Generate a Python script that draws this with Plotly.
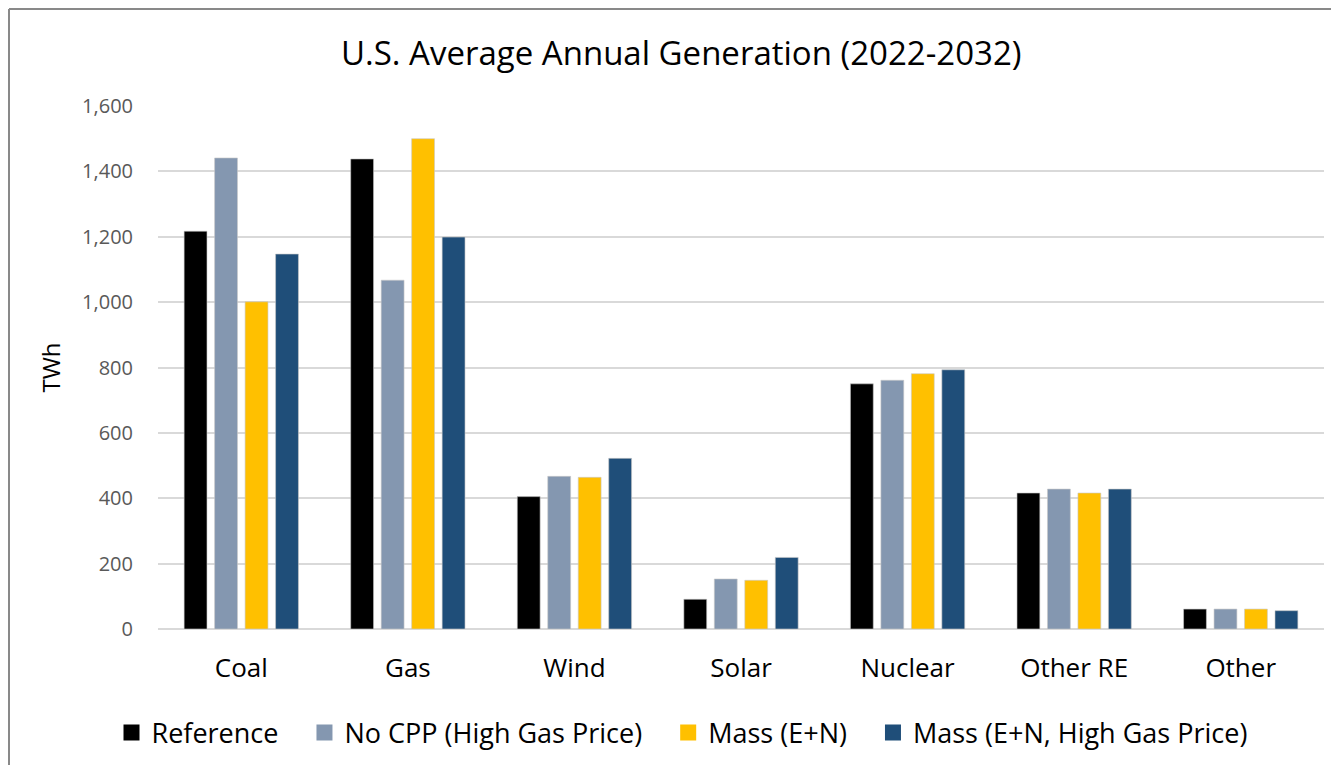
import plotly.graph_objects as go

categories = ["Coal", "Gas", "Wind", "Solar", "Nuclear", "Other RE", "Other"]
series_names = ["Reference", "No CPP (High Gas Price)", "Mass (E+N)", "Mass (E+N, High Gas Price)"]
reference = [1217, 1438, 405, 91, 750, 416, 61]
no_cpp_high_gas = [1441, 1067, 467, 153, 761, 428, 61]
mass_en = [1001, 1500, 464, 149, 781, 416, 61]
mass_en_high_gas = [1147, 1199, 522, 219, 793, 428, 56]
colors = ["#000000", "#8497B0", "#FFC000", "#1F4E79"]
y_ticks = [0, 200, 400, 600, 800, 1000, 1200, 1400, 1600]

FONT = "Open Sans"
# page is drawn with an 8px body margin; figure coordinates = page - 8
W, H = 1323, 757
L, R, T, B = 150, 7, 98, 136

pw = W - L - R
ph = H - T - B
def px_to_paper_x(px):
    return (px - L) / pw
def px_to_paper_y(py):
    return (H - B - py) / ph

fig = go.Figure()
all_vals = [reference, no_cpp_high_gas, mass_en, mass_en_high_gas]
for name, vals, col in zip(series_names, all_vals, colors):
    fig.add_trace(go.Bar(
        name=name, x=categories, y=vals, showlegend=False,
        marker=dict(color=col, line=dict(color="rgba(200,200,200,0.6)", width=1)),
    ))
pad = "\u00a0" * 3
for i, (name, col) in enumerate(zip(series_names, colors)):
    label = name + (pad if i < len(series_names) - 1 else "")
    fig.add_trace(go.Scatter(
        name=label, x=[None], y=[None], mode="markers",
        marker=dict(symbol="square", size=16, color=col), showlegend=True,
    ))

border = dict(color="#898989", width=2)
fig.update_layout(
    width=W, height=H,
    margin=dict(l=L, r=R, t=T, b=B, pad=0),
    paper_bgcolor="white", plot_bgcolor="white",
    barmode="group", bargap=0.268, bargroupgap=0.25,
    font=dict(family=FONT, color="#000000"),
    showlegend=True,
    legend=dict(
        orientation="h", xref="paper", yref="paper",
        x=px_to_paper_x(674), xanchor="center",
        y=px_to_paper_y(725), yanchor="middle",
        font=dict(family=FONT, size=27, color="#000000"),
        bgcolor="rgba(0,0,0,0)", itemsizing="trace",
    ),
    annotations=[
        dict(text="U.S. Average Annual Generation (2022-2032)", xref="paper", yref="paper",
             x=px_to_paper_x(673), y=px_to_paper_y(44), xanchor="center", yanchor="middle",
             showarrow=False, font=dict(family=FONT, size=33, color="#000000")),
    ],
    shapes=[
        dict(type="line", xref="paper", yref="paper",
             x0=px_to_paper_x(1), y0=px_to_paper_y(1), x1=px_to_paper_x(1), y1=px_to_paper_y(H),
             line=border, layer="below"),
        dict(type="line", xref="paper", yref="paper",
             x0=px_to_paper_x(1), y0=px_to_paper_y(1), x1=px_to_paper_x(W), y1=px_to_paper_y(1),
             line=border, layer="below"),
    ],
)

fig.update_xaxes(
    showgrid=False, showline=False, zeroline=False,
    ticks="outside", ticklen=16, tickcolor="rgba(0,0,0,0)",
    tickfont=dict(family=FONT, size=26, color="#000000"),
)
fig.update_yaxes(
    range=[0, 1600], tickvals=y_ticks, tickformat=",d",
    showgrid=True, gridcolor="#D9D9D9", gridwidth=1.5,
    zeroline=True, zerolinecolor="#D9D9D9", zerolinewidth=1.5,
    showline=False,
    ticks="outside", ticklen=20, tickcolor="rgba(0,0,0,0)",
    tickfont=dict(family=FONT, size=20, color="#595959"),
    title=dict(text="TWh", font=dict(family=FONT, size=24, color="#000000"), standoff=14),
)

fig.write_html("out.html")
